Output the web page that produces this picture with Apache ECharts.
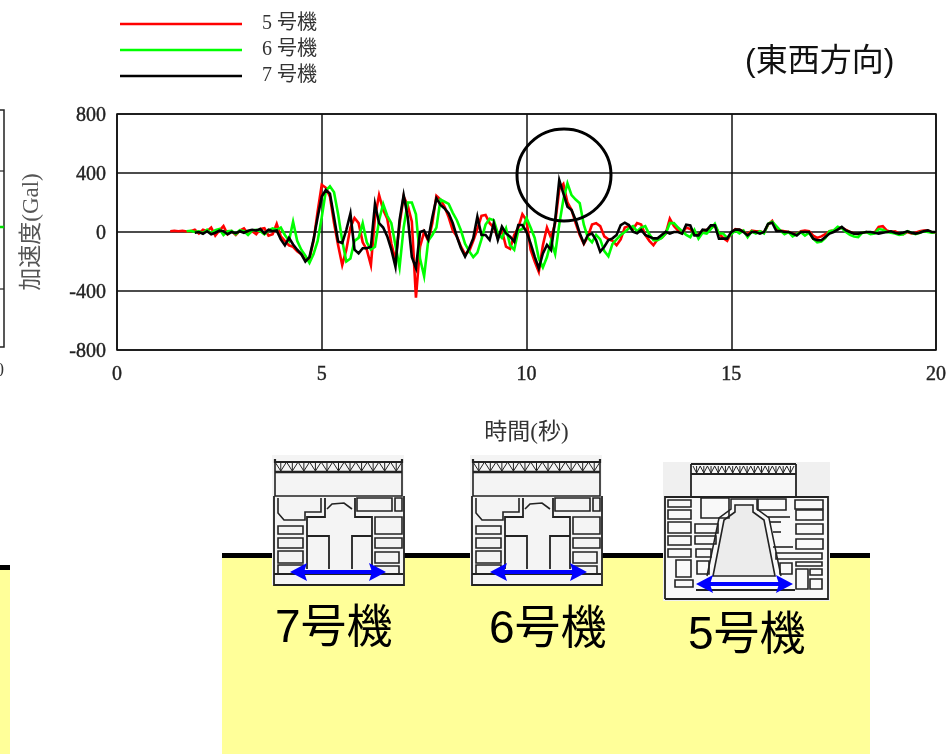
<!DOCTYPE html>
<html><head><meta charset="utf-8">
<style>html,body{margin:0;padding:0;background:#fff;overflow:hidden}#c{width:946px;height:754px;filter:blur(.35px)}</style>
<script src="https://cdn.jsdelivr.net/npm/echarts@6/dist/echarts.min.js"></script>
</head><body><div id="c"></div>
<script>
// ---- chart data (seconds, Gal) ----
const times = [
1.3,1.4,1.5,1.6,1.7,1.8,1.9,
2.0,2.1,2.2,2.3,2.4,2.5,2.6,2.7,2.8,2.9,
3.0,3.1,3.2,3.3,3.4,3.5,3.6,3.7,3.8,3.9,
4.0,4.1,4.2,4.3,4.4,4.5,4.6,4.7,4.8,4.9,
5.0,5.1,5.2,5.3,5.4,5.5,5.6,5.7,5.8,5.9,
6.0,6.1,6.2,6.3,6.4,6.5,6.6,6.7,6.8,6.9,
7.0,7.1,7.2,7.3,7.4,7.5,7.6,7.7,7.8,7.9,
8.0,8.1,8.2,8.3,8.4,8.5,8.6,8.7,8.8,8.9,
9.0,9.1,9.2,9.3,9.4,9.5,9.6,9.7,9.8,9.9,
10.0,10.1,10.2,10.3,10.4,10.5,10.6,10.7,10.8,10.9,
11.0,11.1,11.2,11.3,11.4,11.5,11.6,11.7,11.8,11.9,
12.0,12.1,12.2,12.3,12.4,12.5,12.6,12.7,12.8,12.9,
13.0,13.1,13.2,13.3,13.4,13.5,13.6,13.7,13.8,13.9,
14.0,14.1,14.2,14.3,14.4,14.5,14.6,14.7,14.8,14.9,
15.0,15.1,15.2,15.3,15.4,15.5,15.6,15.7,15.8,15.9,
16.0,16.1,16.2,16.3,16.4,16.5,16.6,16.7,16.8,16.9,
17.0,17.1,17.2,17.3,17.4,17.5,17.6,17.7,17.8,17.9,
18.0,18.1,18.2,18.3,18.4,18.5,18.6,18.7,18.8,18.9,
19.0,19.1,19.2,19.3,19.4,19.5,19.6,19.7,19.8,19.9,
20.0];
const unit5 = [
5,8,5,8,3,5,15,
-10,15,5,30,-25,10,40,-15,5,-20,
10,25,-10,5,-15,20,25,-25,-15,55,
-30,-60,-90,-100,-130,-150,-190,-180,-60,140,
320,300,240,60,-90,-225,-120,30,95,60,
-70,-120,-225,100,250,150,90,-80,-190,50,
240,180,70,-445,-100,0,-60,60,245,220,
170,100,10,-30,-100,-150,-130,-60,20,110,
115,60,30,-40,10,-100,-115,-20,30,120,
80,-120,-200,-270,-90,30,-40,60,290,325,
200,150,60,-20,-80,-30,50,60,40,-30,
-50,-60,-90,-50,30,40,20,60,50,-20,
-60,-90,-50,-40,-10,90,40,10,-10,30,
20,-10,-20,10,15,25,45,-10,-40,-60,
-5,20,15,5,-15,10,5,5,-5,50,
75,20,10,5,0,-10,-15,5,10,5,
-25,-40,-30,-15,5,10,20,30,15,0,
-10,-15,-5,0,-10,-5,35,40,10,0,
5,-10,-15,0,-10,-5,5,10,10,-5,
0];
const unit6 = [
null,null,null,null,5,8,0,
5,-8,15,-10,12,20,-20,5,8,-15,
12,5,-20,10,15,5,-15,12,25,15,
30,-20,-60,70,-60,-120,-160,-210,-150,-60,
100,280,310,270,120,-60,-200,-180,-60,-40,
60,-70,-120,-100,80,190,110,60,-90,-240,
30,200,200,120,-180,-300,-60,-20,30,220,
205,190,130,80,10,-80,-130,-170,-140,-50,
50,90,80,-10,-40,25,-90,-120,10,20,
95,30,-40,-180,-240,-170,-60,-150,50,220,
330,250,220,195,50,-40,-70,-20,-50,-130,
-165,-80,-50,-20,0,25,40,5,30,40,
-15,-55,-55,-40,-10,60,60,30,5,-20,
-35,15,-45,-5,-10,20,55,-10,-10,-40,
-15,10,-10,10,-35,5,-10,5,-10,55,
70,40,10,-15,0,-30,-15,0,-25,-5,
-45,-70,-65,-40,5,10,35,25,0,-20,
-30,-35,-5,0,-15,-10,20,15,0,-5,
-10,-20,-15,5,-5,-15,-5,5,0,-5,
0];
const unit7 = [
null,null,null,null,null,null,-5,
0,-12,5,-15,-5,10,5,-15,0,-8,
5,-5,8,15,10,20,-10,15,5,10,
-50,-90,-40,-85,-120,-150,-200,-170,-50,100,
240,285,260,100,-65,-75,15,125,-120,-145,
-110,-110,-100,190,60,30,-30,-120,-235,80,
250,100,-170,-245,0,10,-50,100,228,183,
160,126,59,-32,-110,-167,-110,-43,104,-20,
-20,-54,59,-54,36,-10,-32,-65,47,47,
2,-77,-167,-246,-145,-88,-122,81,352,262,
172,149,81,-9,-77,-20,-10,-54,-133,-100,
-54,-43,-20,47,63,47,2,-9,14,-20,
-32,-43,-43,-20,2,-11,0,0,-11,50,
45,-23,-23,16,11,45,45,-45,-45,-45,
0,16,16,0,-23,0,0,-11,0,56,
63,7,7,0,0,-11,-23,0,0,0,
-45,-56,-56,-34,-11,0,16,34,11,0,
-11,-11,-5,0,0,-5,-11,-5,0,5,
-5,-11,-5,5,-5,-11,-5,5,11,0,
0];
const seriesNames = ['5 号機','6 号機','7 号機'];
const seriesColors = ['#ff0000','#00ff00','#000000'];
const yTicks = [-800,-400,0,400,800];
const xTicks = [0,5,10,15,20];
const unitLabels = ['7号機','6号機','5号機'];

// ---- building section pictograms (decoration) ----
const ink = '#222';
const Z = 5;
function box(x,y,w,h,lw,fill){return {type:'rect',z:Z,shape:{x,y,width:w,height:h},style:{fill:fill||'transparent',stroke:ink,lineWidth:lw||1.6},silent:true};}
function path(pts,lw){return {type:'polyline',z:Z,shape:{points:pts},style:{fill:'transparent',stroke:ink,lineWidth:lw||1.6},silent:true};}
function bg(x,y,w,h,c){return {type:'rect',z:Z,shape:{x,y,width:w,height:h},style:{fill:c},silent:true};}
function rooms(list){return list.map(r=>box(r[0],r[1],r[2]-r[0],r[3]-r[1]));}
function truss(x0,x1,y0,y1,n){
  const pts=[];const s=(x1-x0)/n;
  for(let i=0;i<n;i++){pts.push([[x0+i*s,y0],[x0+i*s+s/2,y1],[x0+i*s+s,y0]]);pts.push([[x0+i*s+s/2,y0],[x0+i*s+s/2,y1]]);}
  return pts.map(p=>path(p,1));
}
function abwr(ox,oy){
  return {type:'group',x:ox,y:oy,children:[
    bg(0,0,132,130,'#f4f4f4'),
    ...truss(3,130,7,16,11),
    path([[3,4],[3,7],[130,7],[130,4]],2.2), path([[3,17],[130,17]],2.6),
    path([[3,7],[3,41],[130,41],[130,7]],1.6), path([[2,41],[2,130],[132,130],[132,41]],1.8),
    path([[6,43],[6,58],[12,65],[33,65],[33,57],[49,57],[49,43]]),
    path([[35,114],[35,62],[53,62],[53,43]],1.8), path([[83,43],[83,62],[100,62],[100,114]],1.8),
    path([[55,54],[60,49],[72,48],[80,54]]),
    path([[57,114],[57,81],[35,81]],1.8), path([[80,114],[80,81],[100,81]],1.8),
    ...rooms([[85,43,120,56],[123,43,130,56],[103,62,130,79],[103,83,130,93],[103,97,127,108],[103,111,127,119],
              [6,71,31,79],[6,83,31,93],[6,96,31,108],[6,110,31,119]]),
    path([[2,119],[131,119]],1.8)
  ]};
}
function bwr(ox,oy){
  return {type:'group',x:ox,y:oy,children:[
    bg(0,0,167,139,'#f0f0f0'),
    bg(28,2,105,33,'#f7f7f7'),
    bg(2,35,163,102,'#f9f9f9'),
    ...truss(30,131,4,11,14),
    path([[28,2],[133,2]],2.2), path([[28,12],[133,12]],2.2),
    path([[28,2],[28,35]],1.8), path([[133,2],[133,35]],1.8),
    path([[2,137],[2,35],[165,35],[165,137],[2,137]],1.8),
    {type:'polygon',z:Z,shape:{points:[[50,114],[61,58],[72,50],[72,43],[90,43],[90,50],[101,58],[112,114]]},style:{fill:'#ececec',stroke:ink,lineWidth:1.6},silent:true},
    path([[44,114],[56,56],[68,47],[68,37],[94,37],[94,47],[106,56],[118,114]],1.5),
    ...rooms([[5,38,28,45],[5,48,28,57],[5,60,28,71],[5,74,28,83],[5,87,28,95],[13,98,28,115],[12,118,30,125],
              [38,36,66,56],[32,62,55,71],[32,74,53,82],[33,87,48,95],[34,99,46,112],
              [95,37,123,48],[132,38,160,47],[133,48,160,58],[133,62,160,72],[133,77,160,87],[113,91,159,97],
              [133,100,159,104],[133,107,145,127],[147,107,159,113],[147,117,159,127],[117,101,129,112]]),
    path([[105,55],[127,55]]), path([[107,60],[118,60]]), path([[110,70],[118,70]]), path([[110,85],[130,85]]),
    path([[33,128],[132,128]],1.8)
  ]};
}
function arrow(x0,x1,y){
  return {type:'group',children:[
    {type:'line',z:7,shape:{x1:x0+8,y1:y,x2:x1-8,y2:y},style:{stroke:'#0000ff',lineWidth:4},silent:true},
    {type:'polygon',z:7,shape:{points:[[x0,y],[x0+17,y-9],[x0+14,y],[x0+17,y+9]]},style:{fill:'#0000ff'},silent:true},
    {type:'polygon',z:7,shape:{points:[[x1,y],[x1-17,y-9],[x1-14,y],[x1-17,y+9]]},style:{fill:'#0000ff'},silent:true}
  ]};
}
function label(x,y,s,size,fam,color){return {type:'text',x,y,z:8,style:{text:s,fontSize:size,fontFamily:fam||'"Liberation Sans","Noto Sans CJK JP"',fill:color||'#000',textAlign:'left',textVerticalAlign:'middle'},silent:true};}

const chart = echarts.init(document.getElementById('c'),null,{renderer:'canvas',width:946,height:754});
const tickFont = {color:'#222',fontSize:20,fontFamily:'"Liberation Serif"',textBorderColor:'#222',textBorderWidth:0.4};
chart.setOption({
  animation:false,
  backgroundColor:'#fff',
  textStyle:{fontFamily:'"Liberation Serif","Noto Sans CJK JP"'},
  legend:{left:120,top:14,padding:0,orient:'vertical',itemWidth:122,itemHeight:14,itemGap:6,icon:'path://M0 6.5H100V8.5H0Z',
    textStyle:{fontSize:20,lineHeight:14,height:14,color:'#333',padding:[0,0,0,15],fontFamily:'"Liberation Serif","Noto Sans CJK JP"'},
    data:seriesNames,selectedMode:false},
  grid:{left:117,right:10,top:114,bottom:404,outerBoundsMode:'none',show:true,borderColor:'#111',borderWidth:1.6,backgroundColor:'transparent'},
  xAxis:{type:'value',min:0,max:20,interval:5,
    axisLine:{show:false},axisTick:{show:false},
    splitLine:{show:true,lineStyle:{color:'#111',width:1.5}},
    axisLabel:{...tickFont,margin:15,formatter:v=>xTicks.includes(v)?String(v):''},
    name:'時間(秒)',nameLocation:'middle',nameGap:71,nameTextStyle:{fontSize:23,color:'#333',fontFamily:'"Liberation Serif","Noto Sans CJK JP"'}},
  yAxis:{type:'value',min:-800,max:800,interval:400,
    axisLine:{show:false},axisTick:{show:false},
    splitLine:{show:true,lineStyle:{color:'#111',width:1.5}},
    axisLabel:{margin:11,formatter:v=>yTicks.includes(v)?'{t|'+v+'}':'',rich:{t:{...tickFont,padding:[4,0,0,0]}}},
    name:'加速度(Gal)',nameLocation:'middle',nameGap:74,nameTextStyle:{fontSize:23,color:'#555',fontFamily:'"Liberation Serif","Noto Sans CJK JP"'}},
  series:[unit5,unit6,unit7].map((s,i)=>({
    name:seriesNames[i],type:'line',showSymbol:false,symbol:'none',connectNulls:false,
    itemStyle:{color:seriesColors[i]},
    lineStyle:{color:seriesColors[i],width:2.6,join:'miter'},z:3+i,
    data:times.map((t,k)=>[t,s[k]])
  })),
  graphic:[
    // ground blocks
    {type:'rect',z:0,shape:{x:222,y:555,width:648,height:199},style:{fill:'#ffff99'},silent:true},
    {type:'rect',z:1,shape:{x:222,y:553,width:648,height:5},style:{fill:'#000'},silent:true},
    {type:'rect',z:0,shape:{x:0,y:568,width:10,height:186},style:{fill:'#ffff99'},silent:true},
    {type:'rect',z:1,shape:{x:0,y:565,width:10,height:5},style:{fill:'#000'},silent:true},
    abwr(272,455),abwr(470,455),bwr(663,462),
    arrow(290,386,572),arrow(490,587,572),arrow(696,793,584),
    label(275,629,unitLabels[0],46),label(489,630,unitLabels[1],46),label(688,636,unitLabels[2],46),
    label(745,62,'(東西方向)',32,null,'#111'),
    // peak marker
    {type:'ellipse',z:9,shape:{cx:564,cy:175,rx:47,ry:46},style:{fill:'transparent',stroke:'#000',lineWidth:3},silent:true},
    // neighbouring panel, cut off by the picture's left edge
    {type:'polyline',z:2,shape:{points:[[0,110],[4,110],[4,347],[0,347]]},style:{fill:'transparent',stroke:'#222',lineWidth:1.5},silent:true},
    {type:'line',z:2,shape:{x1:0,y1:171,x2:4,y2:171},style:{stroke:'#222',lineWidth:1.2},silent:true},
    {type:'line',z:2,shape:{x1:0,y1:289,x2:4,y2:289},style:{stroke:'#222',lineWidth:1.2},silent:true},
    {type:'line',z:2,shape:{x1:0,y1:227,x2:4,y2:227},style:{stroke:'#00dd00',lineWidth:2.5},silent:true},
    label(-14,371,'20',18,'"Liberation Serif"','#333')
  ]
});
</script></body></html>
